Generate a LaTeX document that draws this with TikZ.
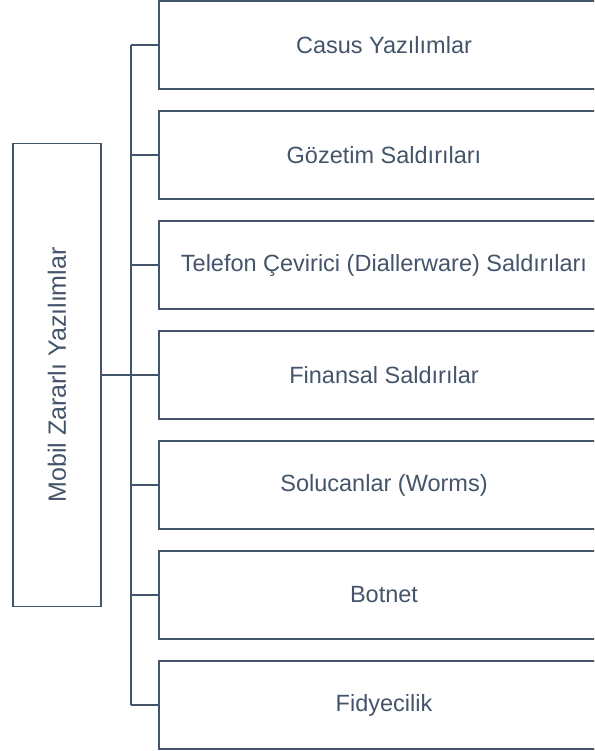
\documentclass[tikz,border=0pt]{standalone}
\usepackage{fontspec}
\setmainfont{Liberation Sans}
\usepackage{tikz}
\definecolor{slate}{HTML}{44546A}
\tikzset{
        leafbox/.style={draw=slate, line width=1.5pt, text=slate, minimum width=450pt, minimum height=88pt, inner sep=0pt, font=\fontsize{23.5}{25}\selectfont},
        mainbox/.style={draw=slate, line width=1.5pt, text=slate, minimum width=88pt, minimum height=463pt, inner sep=0pt, font=\fontsize{25}{27}\selectfont},
        link/.style={slate, line width=1.5pt}
}

\begin{document}
\begin{tikzpicture}[x=1pt, y=1pt]
        
        \clip (0,0) rectangle (594,-751);
        
        \node[mainbox] (mzy) at (57,-375) {\rotatebox{90}{Mobil Zararlı Yazılımlar}};
        
        \node[leafbox] (casus) at (384,-45) {Casus Yazılımlar};
        \node[leafbox] (gozetim) at (384,-155) {Gözetim Saldırıları};
        \node[leafbox] (cevirici) at (384,-265) {Telefon Çevirici (Diallerware) Saldırıları};
        \node[leafbox] (finansal) at (384,-375) {Finansal Saldırılar};
        \node[leafbox] (solucan) at (384,-485) {Solucanlar (Worms)};
        \node[leafbox] (botnet) at (384,-595) {Botnet};
        \node[leafbox] (fidye) at (384,-705) {Fidyecilik};
        
        \draw[link] (mzy.east) -- ++(29,0) coordinate (trunk);
        \draw[link] (trunk |- casus.west) -- (trunk |- fidye.west);
        
        \draw[link] (trunk |- casus.west) -- (casus.west);
        \draw[link] (trunk |- gozetim.west) -- (gozetim.west);
        \draw[link] (trunk |- cevirici.west) -- (cevirici.west);
        \draw[link] (trunk |- finansal.west) -- (finansal.west);
        \draw[link] (trunk |- solucan.west) -- (solucan.west);
        \draw[link] (trunk |- botnet.west) -- (botnet.west);
        \draw[link] (trunk |- fidye.west) -- (fidye.west);
        
\end{tikzpicture}
\end{document}
